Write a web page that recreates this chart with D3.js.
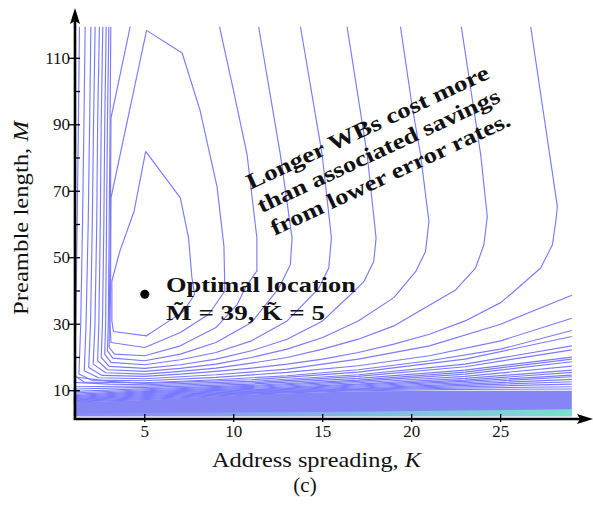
<!DOCTYPE html>
<html><head><meta charset="utf-8">
<script src="https://cdn.jsdelivr.net/npm/d3@7"></script>
<style>body{margin:0;background:#fff}svg{display:block}text{font-family:"Liberation Serif","Times New Roman",serif;fill:#111}</style>
</head><body>
<script>
// ---- data (K = address spreading, M = preamble length) ----
const kTicks = [5, 10, 15, 20, 25];
const mTicks = [10, 30, 50, 70, 90, 110];
const mMinorTicks = [20, 40, 60, 80, 100];
const optimum = [5, 39];

// closed contours around the optimum
const innerLoops = [
  [[5.05,82],[4.4,64],[3.6,52],[3.15,43],[3.15,31],[3.24,27.8],[5.1,26.5],[6.2,30.4],[7.2,34],[7.8,39],[7.65,44],[7.46,56],[7.0,68],[5.05,82]],
  [[5.1,118.4],[3.1,68],[3.08,45],[3.05,30],[3.1,24.5],[5,23],[7,27.5],[8.6,33],[9.5,40],[9.45,53.4],[9.06,71.4],[8.1,94.5],[7.1,111.6],[5.1,118.4]]
];
// U-shaped contours entering and leaving through the top edge
const topContours = [
  [[4.18,119.5],[3.1,92],[3.07,60],[3.0,30],[3.0,23],[3.3,21],[5,20.5],[7,23.5],[9,29],[10.2,36],[10.65,41],[11.3,46],[11.3,56],[10.75,81],[10.0,100],[9.2,119.5]],
  [[3.09,119.5],[3.05,90],[3.0,60],[2.95,30],[2.9,22],[3.2,19.8],[5,19],[7,21],[9,24.5],[11,30.5],[12.53,40.8],[13.18,47.9],[13.28,55.9],[12.62,81],[11.4,119.5]],
  [[2.98,119.5],[2.9,90],[2.85,60],[2.8,30],[2.75,21],[3.1,18.5],[5,17.8],[7,19.3],[9,21.5],[11,25],[13,31],[14.78,40.8],[15.34,46.9],[15.49,56],[14.97,81],[13.75,119.5]],
  [[2.83,119.5],[2.75,90],[2.7,60],[2.62,30],[2.55,20],[3,17.3],[5,16.7],[7,17.8],[9,19.5],[11,22],[13,25.5],[15,31],[16.84,40.3],[17.31,42.8],[17.87,48.9],[18.0,55.9],[17.5,81],[16.37,119.5]],
  [[2.64,119.5],[2.55,90],[2.5,60],[2.42,30],[2.35,19],[2.9,16.3],[5,15.8],[7,16.7],[9,18],[11,20],[13,22.5],[15,26],[17,31],[19,38],[20.22,45.8],[20.78,51.9],[20.97,60.9],[20.5,81],[20.03,95.5],[19.37,119.5]],
  [[2.45,119.5],[2.35,90],[2.3,60],[2.2,30],[2.1,18],[2.8,15.4],[5,15],[7,15.8],[9,16.8],[11,18.3],[13,20],[15,22.5],[17,25.5],[19,29.5],[20.22,33.3],[22.47,40.3],[23.59,46.9],[24.06,53.9],[24.25,62.4],[23.88,81],[22.79,119.5]],
  [[2.21,119.5],[2.12,90],[2.05,60],[1.95,30],[1.85,17],[2.6,14.6],[5,14.3],[7,15],[9,15.8],[11,16.8],[13,18],[15,19.5],[17,21.5],[19,24],[21,27],[23,31],[25,36.5],[25.84,40.3],[27.25,46.9],[27.91,53.9],[28.1,60.9],[28.19,65.4],[26.69,119.5]]
];
// contours entering at the top edge and leaving at the right edge
const topRightContours = [
  [[1.97,119.5],[1.9,90],[1.82,60],[1.7,30],[1.6,16],[2.4,13.9],[5,13.6],[9,14.8],[13,16.5],[17,19.5],[21,23.5],[25,30],[29,38.7]],
  [[1.65,119.5],[1.58,90],[1.5,60],[1.4,30],[1.3,15],[2,13.2],[5,13],[9,14],[13,15.5],[17,17.5],[21,20.5],[25,25],[29,31.8]],
  [[1.33,119.5],[1.27,90],[1.2,60],[1.12,30],[1.05,14.5],[1.6,12.6],[5,12.4],[9,13.3],[13,14.5],[17,16.3],[21,19],[25,22.5],[29,28.1]]
];
// contours crossing from the left edge to the right edge
const leftRightContours = [
  [[1,14.2],[3,12.8],[5,12.2],[11,13.3],[17,15.6],[23,19.5],[29,26.3]],
  [[1,12.5],[3,12.0],[5,11.8],[11,12.8],[17,14.8],[23,18],[29,23.5]],
  [[1,11.2],[5,11.4],[11,12.4],[17,14.3],[23,17.2],[29,22.3]],
  [[1,10.5],[5,11.0],[11,12.0],[17,13.7],[23,16.2],[29,20.1]],
  [[1,9.8],[5,10.6],[11,11.6],[17,13.2],[23,15.6],[29,19.5]],
  [[1,9.3],[5,10.3],[11,11.3],[17,12.8],[23,15.0],[29,18.7]],
  [[1,8.9],[5,10.0],[11,11.0],[17,12.4],[23,14.3],[29,17.4]],
  [[1,8.5],[5,9.7],[11,10.7],[17,12.0],[23,13.7],[29,16.2]],
  [[1,8.2],[5,9.4],[11,10.4],[17,11.7],[23,13.2],[29,15.5]],
  [[1,7.9],[5,9.1],[11,10.2],[17,11.4],[23,12.8],[29,14.7]],
  [[1,7.6],[5,8.8],[11,10.0],[17,11.1],[23,12.4],[29,14.2]],
  [[1,7.4],[5,8.5],[11,9.8],[17,10.8],[23,12.0],[29,13.4]],
  [[1,7.2],[5,8.2],[11,9.6],[17,10.6],[23,11.6],[29,12.7]],
  [[1,7.0],[5,7.9],[11,9.4],[17,10.4],[23,11.2],[29,12.0]],
  [[1,6.8],[5,7.6],[11,9.2],[17,10.2],[23,10.8],[29,11.2]],
  [[1,6.6],[5,7.3],[11,9.0],[17,10.0],[23,10.4],[29,10.5]]
];
// densely packed contour band at small M (top edge, bottom edge)
const bandTop = [[1,6.5],[5,7.2],[11,8.9],[17,9.8],[23,10.0],[29,10.0]];
const bandBottom = [[1,2.3],[29,2.3]];
const bandHighTop = [[1,3.2],[15,3.6],[29,4.4]];
const noteLines = ["Longer WBs cost more", "than associated savings", "from lower error rates."];

// ---- drawing ----
const W = 593, H = 505;
const svg = d3.select("body").append("svg").attr("width", W).attr("height", H);
const x = d3.scaleLinear().domain([1, 29]).range([73.6, 571.8]);
const y = d3.scaleLinear().domain([10, 110]).range([390.7, 58.3]);
const line = d3.line().x(d => x(d[0])).y(d => y(d[1]));
const lineColor = "#7a7aff";

const defs = svg.append("defs");
const g1 = defs.append("linearGradient").attr("id", "hi").attr("x1", 0).attr("x2", 1).attr("y1", 0).attr("y2", 0);
g1.append("stop").attr("offset", "0%").attr("stop-color", "#8a8af4");
g1.append("stop").attr("offset", "45%").attr("stop-color", "#86b4ea");
g1.append("stop").attr("offset", "100%").attr("stop-color", "#78f0c4");

// band
const bandPoly = bandTop.concat(bandBottom.slice().reverse());
svg.append("path").attr("d", line(bandPoly) + "Z").attr("fill", "#8585f6");
const hiPoly = bandHighTop.concat(bandBottom.slice().reverse());
svg.append("path").attr("d", line(hiPoly) + "Z").attr("fill", "url(#hi)").attr("opacity", 0.85);

const all = [].concat(innerLoops, topContours, topRightContours, leftRightContours);
svg.append("g").selectAll("path").data(all).join("path")
  .attr("d", line).attr("fill", "none").attr("stroke", lineColor).attr("stroke-width", 1.15)
  .attr("stroke-linejoin", "round");

// axes
const axX = 75, axY = 419;
svg.append("line").attr("x1", axX).attr("y1", axY).attr("x2", axX).attr("y2", 20).attr("stroke", "#000").attr("stroke-width", 2.6);
svg.append("line").attr("x1", axX - 1.3).attr("y1", axY).attr("x2", 584).attr("y2", axY).attr("stroke", "#000").attr("stroke-width", 2.6);
svg.append("path").attr("d", `M${axX},8 L${axX - 5},24 L${axX},21 L${axX + 5},24 Z`).attr("fill", "#000");
svg.append("path").attr("d", `M593,${axY} L577,${axY - 5} L580,${axY} L577,${axY + 5} Z`).attr("fill", "#000");

svg.append("g").selectAll("line").data(mTicks).join("line")
  .attr("x1", axX - 7).attr("x2", axX + 5).attr("y1", d => y(d)).attr("y2", d => y(d)).attr("stroke", "#000").attr("stroke-width", 1.3);
svg.append("g").selectAll("line").data(mMinorTicks).join("line")
  .attr("x1", axX).attr("x2", axX + 5).attr("y1", d => y(d)).attr("y2", d => y(d)).attr("stroke", "#000").attr("stroke-width", 1.3);
svg.append("g").selectAll("line").data(kTicks).join("line")
  .attr("x1", d => x(d)).attr("x2", d => x(d)).attr("y1", axY - 5).attr("y2", axY + 3).attr("stroke", "#000").attr("stroke-width", 1.3);

svg.append("g").selectAll("text").data(mTicks).join("text")
  .attr("x", 70).attr("y", d => y(d) + 5.5).attr("text-anchor", "end").attr("font-size", 17).text(d => d);
svg.append("g").selectAll("text").data(kTicks).join("text")
  .attr("x", d => x(d)).attr("y", 437).attr("text-anchor", "middle").attr("font-size", 17).text(d => d);

function fit(sel, len) { return sel.attr("textLength", len).attr("lengthAdjust", "spacingAndGlyphs"); }

fit(svg.append("text").attr("x", 212).attr("y", 467).attr("font-size", 22)
  .html('Address spreading, <tspan font-style="italic">K</tspan>'), 209);
svg.append("text").attr("x", 305).attr("y", 492).attr("text-anchor", "middle").attr("font-size", 21).text("(c)");
fit(svg.append("text").attr("transform", "translate(28,315) rotate(-90)").attr("font-size", 22)
  .html('Preamble length, <tspan font-style="italic">M</tspan>'), 194);

// optimum marker and labels
svg.append("circle").attr("cx", x(optimum[0])).attr("cy", y(optimum[1])).attr("r", 4.5).attr("fill", "#000");
fit(svg.append("text").attr("x", 166).attr("y", 292).attr("font-size", 22).attr("font-weight", "bold").text("Optimal location"), 190);
fit(svg.append("text").attr("x", 166).attr("y", 320).attr("font-size", 22).attr("font-weight", "bold")
  .text(`M\u0303 = ${optimum[1]}, K\u0303 = ${optimum[0]}`), 159);

const note = svg.append("g").attr("transform", "translate(250,190) rotate(-25)");
noteLines.forEach((t, i) => {
  fit(note.append("text").attr("x", i === 2 ? 134 : 133).attr("y", i * 26).attr("text-anchor", "middle")
    .attr("font-size", 22).attr("font-weight", "bold").text(t), i === 2 ? 262 : 265);
});
</script>
</body></html>
